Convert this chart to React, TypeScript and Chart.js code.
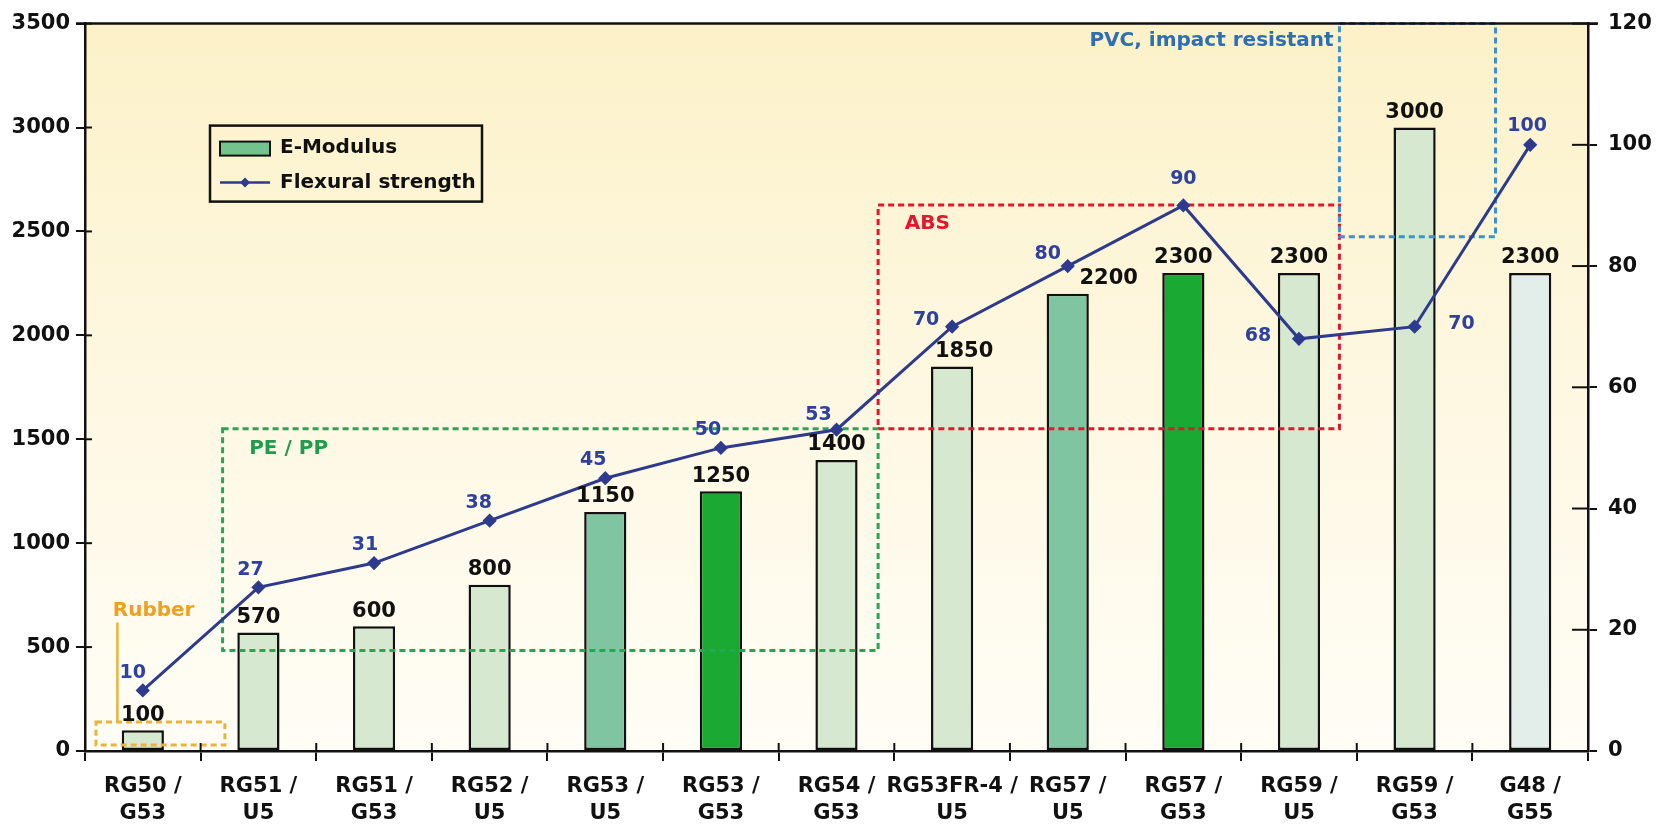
import React, { useEffect, useRef } from 'react';
import { Chart, registerables } from 'chart.js';

Chart.register(...registerables);

// ---------- data ----------
const categories: string[][] = [
  ['RG50 /', 'G53'], ['RG51 /', 'U5'], ['RG51 /', 'G53'], ['RG52 /', 'U5'],
  ['RG53 /', 'U5'], ['RG53 /', 'G53'], ['RG54 /', 'G53'], ['RG53FR-4 /', 'U5'],
  ['RG57 /', 'U5'], ['RG57 /', 'G53'], ['RG59 /', 'U5'], ['RG59 /', 'G53'], ['G48 /', 'G55'],
];
const eModulus = [100, 570, 600, 800, 1150, 1250, 1400, 1850, 2200, 2300, 2300, 3000, 2300];
const flexuralStrength = [10, 27, 31, 38, 45, 50, 53, 70, 80, 90, 68, 70, 100];
const leftAxis = { min: 0, max: 3500, step: 500 };
const rightAxis = { min: 0, max: 120, step: 20 };
const seriesNames = ['E-Modulus', 'Flexural strength'];

// material groups (data coordinates: category index, left-axis value)
const groupNames = ['Rubber', 'PE / PP', 'ABS', 'PVC, impact resistant'];
const groupX0 = [-0.405, 0.69, 6.36, 10.35];
const groupX1 = [0.71, 6.36, 10.35, 11.7];
const groupY0 = [29, 484, 1551, 2474];
const groupY1 = [139, 1551, 2627, 3500];
const groupLabelX = [-0.26, 0.92, 6.59, 10.3];
const groupLabelY = [676, 1453, 2536, 3418];

// ---------- styles ----------
const FONT = '"DejaVu Sans", Verdana, sans-serif';
const PALE = '#d7e8d1';
const MID = '#80c5a2';
const BRIGHT = '#1aaa34';
const barColors = [PALE, PALE, PALE, PALE, MID, BRIGHT, PALE, PALE, MID, BRIGHT, PALE, PALE, '#e3eeea'];
const barLabelDx = [0, 0, 0, 0, 0, 0, 0, 12, 41, 0, 0, 0, 0];
const lineLabelDx = [-10, -8, -9, -11, -12, -13, -18, -26, -20, 0, -41, 47, -3];
const lineLabelDy = [-17, -17, -18, -18, -18, -18, -15, -7, -12, -26, -3, -3, -19];
const LINE_COLOR = '#2d3a8e';
const LINE_LABEL_COLOR = '#2e40a0';
const groupTextColors = ['#f0a020', '#1f9d4c', '#e3162d', '#2f6db5'];
const groupBoxColors = ['#eab43a', '#24a855', '#e3162d', '#3d8fd6'];

const overlayPlugin = {
  id: 'overlay',
  beforeDraw(chart: any) {
    const { ctx, chartArea: a } = chart;
    ctx.save();
    const g = ctx.createLinearGradient(0, a.top, 0, a.bottom);
    g.addColorStop(0, '#fcf1c8');
    g.addColorStop(0.5, '#fef8e2');
    g.addColorStop(1, '#fffdf6');
    ctx.fillStyle = g;
    ctx.fillRect(a.left, a.top, a.right - a.left, a.bottom - a.top);
    ctx.restore();
  },
  afterDatasetDraw(chart: any, args: any) {
    if (args.index !== 0) return;
    const { ctx } = chart;
    const x = chart.scales.x;
    const y = chart.scales.y;
    ctx.save();
    ctx.lineWidth = 3;
    ctx.setLineDash([6, 4]);
    for (let i = 0; i < groupNames.length; i++) {
      const px0 = x.getPixelForValue(groupX0[i]);
      const px1 = x.getPixelForValue(groupX1[i]);
      const py0 = y.getPixelForValue(groupY0[i]);
      const py1 = y.getPixelForValue(groupY1[i]);
      ctx.strokeStyle = groupBoxColors[i];
      ctx.strokeRect(px0, py1, px1 - px0, py0 - py1);
    }
    // rubber leader line
    ctx.setLineDash([]);
    ctx.strokeStyle = groupBoxColors[0];
    ctx.lineWidth = 2.5;
    const lx = x.getPixelForValue(-0.22);
    ctx.beginPath();
    ctx.moveTo(lx, y.getPixelForValue(groupY1[0]));
    ctx.lineTo(lx, y.getPixelForValue(618));
    ctx.stroke();
    ctx.restore();
  },
  afterDraw(chart: any) {
    const { ctx, chartArea: a } = chart;
    const x = chart.scales.x;
    const y = chart.scales.y;
    const y1 = chart.scales.y1;
    ctx.save();
    // top border
    ctx.strokeStyle = '#111';
    ctx.lineWidth = 2.5;
    ctx.beginPath();
    ctx.moveTo(a.left - 9, a.top);
    ctx.lineTo(a.right + 10, a.top);
    ctx.stroke();
    // inner tick parts
    ctx.lineWidth = 2;
    y.ticks.forEach((t: any) => {
      const py = y.getPixelForValue(t.value);
      ctx.beginPath();
      ctx.moveTo(a.left, py);
      ctx.lineTo(a.left + 7, py);
      ctx.stroke();
    });
    y1.ticks.forEach((t: any) => {
      const py = y1.getPixelForValue(t.value);
      ctx.beginPath();
      ctx.moveTo(a.right - 16, py);
      ctx.lineTo(a.right, py);
      ctx.stroke();
    });
    for (let i = 1; i < categories.length; i++) {
      const px = x.getPixelForValue(i - 0.5);
      ctx.beginPath();
      ctx.moveTo(px, a.bottom);
      ctx.lineTo(px, a.bottom - 8);
      ctx.stroke();
    }

    // group labels
    ctx.font = `bold 20px ${FONT}`;
    ctx.textBaseline = 'middle';
    for (let i = 0; i < groupNames.length; i++) {
      ctx.fillStyle = groupTextColors[i];
      ctx.textAlign = i === 3 ? 'right' : 'left';
      ctx.fillText(groupNames[i], x.getPixelForValue(groupLabelX[i]), y.getPixelForValue(groupLabelY[i]));
    }

    // bar value labels
    ctx.font = `bold 21px ${FONT}`;
    const barMeta = chart.getDatasetMeta(0);
    ctx.fillStyle = '#111';
    ctx.textAlign = 'center';
    ctx.textBaseline = 'middle';
    barMeta.data.forEach((el: any, i: number) => {
      ctx.fillText(String(eModulus[i]), el.x + barLabelDx[i], el.y - 15);
    });
    // line value labels
    ctx.font = `bold 19px ${FONT}`;
    const lineMeta = chart.getDatasetMeta(1);
    ctx.fillStyle = LINE_LABEL_COLOR;
    lineMeta.data.forEach((el: any, i: number) => {
      ctx.fillText(String(flexuralStrength[i]), el.x + lineLabelDx[i], el.y + lineLabelDy[i]);
    });

    // legend
    const lx = a.left + 125;
    const ly = a.top + 102;
    const lw = 272;
    const lh = 76;
    ctx.strokeStyle = '#111';
    ctx.lineWidth = 2.5;
    ctx.strokeRect(lx, ly, lw, lh);
    ctx.fillStyle = '#72c48c';
    ctx.fillRect(lx + 10, ly + 16, 50, 14);
    ctx.lineWidth = 2;
    ctx.strokeRect(lx + 10, ly + 16, 50, 14);
    ctx.strokeStyle = LINE_COLOR;
    ctx.lineWidth = 2.5;
    ctx.beginPath();
    ctx.moveTo(lx + 10, ly + 57);
    ctx.lineTo(lx + 60, ly + 57);
    ctx.stroke();
    ctx.fillStyle = LINE_COLOR;
    ctx.beginPath();
    ctx.moveTo(lx + 35, ly + 52);
    ctx.lineTo(lx + 40, ly + 57);
    ctx.lineTo(lx + 35, ly + 62);
    ctx.lineTo(lx + 30, ly + 57);
    ctx.closePath();
    ctx.fill();
    ctx.font = `bold 20px ${FONT}`;
    ctx.fillStyle = '#111';
    ctx.textAlign = 'left';
    ctx.fillText(seriesNames[0], lx + 70, ly + 22);
    ctx.fillText(seriesNames[1], lx + 70, ly + 57);
    ctx.restore();
  },
};

export default function App() {
  const ref = useRef<HTMLCanvasElement | null>(null);
  useEffect(() => {
    if (!ref.current) return;
    const tickFont = { family: FONT, size: 21, weight: 'bold' as const };
    const chart = new Chart(ref.current, {
      type: 'bar',
      data: {
        labels: categories,
        datasets: [
          {
            type: 'bar',
            label: seriesNames[0],
            data: eModulus,
            backgroundColor: barColors,
            borderColor: '#111',
            borderWidth: 2.5,
            borderSkipped: false,
            categoryPercentage: 1,
            barPercentage: 0.365,
            yAxisID: 'y',
            order: 1,
          },
          {
            type: 'line',
            label: seriesNames[1],
            data: flexuralStrength,
            borderColor: LINE_COLOR,
            backgroundColor: LINE_COLOR,
            borderWidth: 3,
            pointStyle: 'rectRot',
            pointRadius: 5,
            pointBackgroundColor: LINE_COLOR,
            pointBorderColor: LINE_COLOR,
            tension: 0,
            yAxisID: 'y1',
            order: 0,
          },
        ],
      },
      options: {
        animation: false,
        responsive: true,
        maintainAspectRatio: false,
        layout: { padding: { top: 21, left: 0, right: 0, bottom: 0 } },
        plugins: { legend: { display: false }, tooltip: { enabled: false } },
        scales: {
          x: {
            offset: true,
            grid: { offset: true, drawOnChartArea: false, drawTicks: true, tickLength: 10, color: '#111', lineWidth: 2 },
            border: { display: true, color: '#111', width: 2.5 },
            ticks: { color: '#111', font: { ...tickFont, lineHeight: 1.24 }, padding: 13, maxRotation: 0, autoSkip: false },
            afterFit: (s: any) => { s.height = 74; },
          },
          y: {
            position: 'left',
            min: leftAxis.min,
            max: leftAxis.max,
            ticks: { stepSize: leftAxis.step, color: '#111', font: tickFont, padding: 6, callback: (v: any) => String(v) },
            grid: { drawOnChartArea: false, drawTicks: true, tickLength: 9, color: '#111', lineWidth: 2 },
            border: { display: true, color: '#111', width: 2.5 },
            afterFit: (s: any) => { s.width = 85; },
          },
          y1: {
            position: 'right',
            min: rightAxis.min,
            max: rightAxis.max,
            ticks: { stepSize: rightAxis.step, color: '#111', font: tickFont, padding: 11, callback: (v: any) => String(v) },
            grid: { drawOnChartArea: false, drawTicks: true, tickLength: 9, color: '#111', lineWidth: 2 },
            border: { display: true, color: '#111', width: 2.5 },
            afterFit: (s: any) => { s.width = 83; },
          },
        },
      },
      plugins: [overlayPlugin],
    });
    return () => chart.destroy();
  }, []);
  return (
    <div style={{ position: 'absolute', left: 0, top: 0, width: 1671, height: 825, background: '#fff' }}>
      <canvas ref={ref} />
    </div>
  );
}
